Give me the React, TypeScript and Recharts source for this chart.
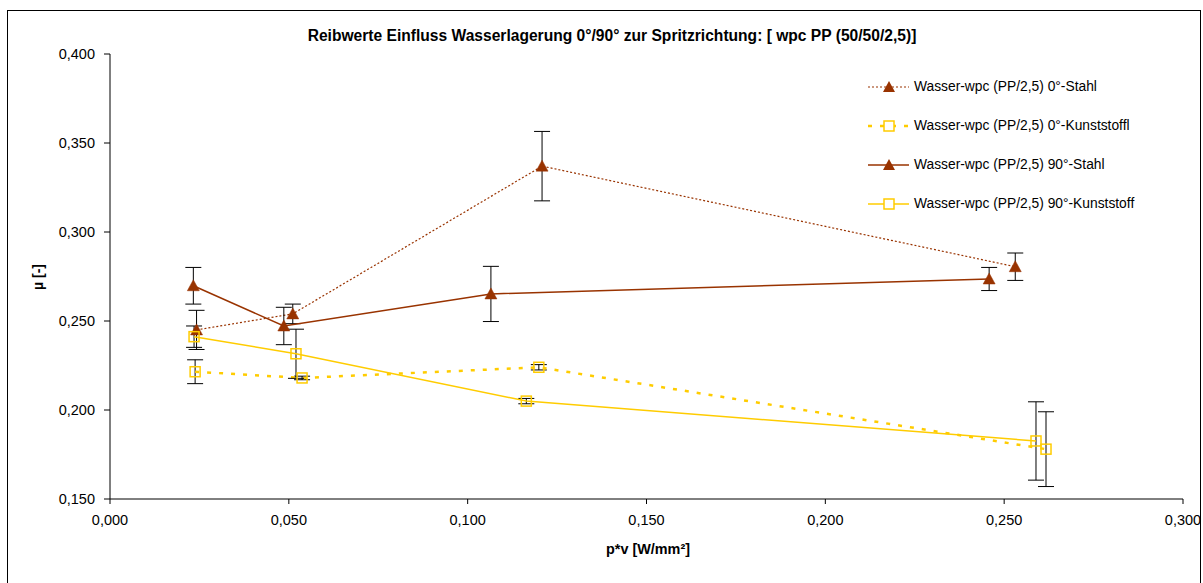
import { LineChart, Line, XAxis, YAxis, ErrorBar } from "recharts"

// 0°-Stahl
const stahl0X = [0.0242, 0.0511, 0.1208, 0.2531]
const stahl0Y = [0.245, 0.254, 0.337, 0.2805]
const stahl0Err = [0.011, 0.0055, 0.0195, 0.0077]

// 0°-Kunststoff
const kunst0X = [0.0238, 0.0537, 0.1199, 0.2617]
const kunst0Y = [0.2215, 0.218, 0.224, 0.178]
const kunst0Err = [0.0067, 0.001, 0.0015, 0.021]

// 90°-Stahl
const stahl90X = [0.0233, 0.0486, 0.1065, 0.2458]
const stahl90Y = [0.2698, 0.2472, 0.2652, 0.2736]
const stahl90Err = [0.0103, 0.0105, 0.0155, 0.0065]

// 90°-Kunststoff
const kunst90X = [0.0235, 0.052, 0.1164, 0.2589]
const kunst90Y = [0.2412, 0.2316, 0.205, 0.1826]
const kunst90Err = [0.006, 0.0138, 0.0015, 0.022]

const xTicks = [0, 0.05, 0.1, 0.15, 0.2, 0.25, 0.3]
const yTicks = [0.15, 0.2, 0.25, 0.3, 0.35, 0.4]

const seriesNames = [
  "Wasser-wpc (PP/2,5) 0°-Stahl",
  "Wasser-wpc (PP/2,5) 0°-Kunststoffl",
  "Wasser-wpc (PP/2,5) 90°-Stahl",
  "Wasser-wpc (PP/2,5) 90°-Kunststoff",
]

const BROWN = "#993300"
const YELLOW = "#FFCC00"
const FONT = "'Liberation Sans', Arial, sans-serif"

const toRows = (xs: number[], ys: number[], es: number[]) =>
  xs.map((x, i) => ({ x, y: ys[i], err: es[i] }))

const fmt = (v: number) => v.toFixed(3).replace(".", ",")

const Triangle = (p: any) => {
  const { cx, cy } = p
  if (cx == null || cy == null) return <g key={p.key} />
  return (
    <path
      key={p.key}
      d={`M${cx},${cy - 6} L${cx + 6},${cy + 5} L${cx - 6},${cy + 5} Z`}
      fill={BROWN}
      stroke={BROWN}
      strokeWidth={0.5}
    />
  )
}

const Square = (p: any) => {
  const { cx, cy } = p
  if (cx == null || cy == null) return <g key={p.key} />
  return (
    <rect
      key={p.key}
      x={cx - 5}
      y={cy - 5}
      width={10}
      height={10}
      fill="none"
      stroke={YELLOW}
      strokeWidth={1.5}
    />
  )
}

const legendLines = [
  { stroke: BROWN, width: 1.2, dash: "2 2", marker: "tri" },
  { stroke: YELLOW, width: 2.5, dash: "4 8", marker: "sq" },
  { stroke: BROWN, width: 1.5, dash: undefined, marker: "tri" },
  { stroke: YELLOW, width: 1.5, dash: undefined, marker: "sq" },
]

function LegendBox() {
  return (
    <div style={{ position: "absolute", left: 866, top: 77 }}>
      {seriesNames.map((n, i) => {
        const l = legendLines[i]
        return (
          <div key={n} style={{ height: 39, display: "flex", alignItems: "flex-start" }}>
            <svg width={46} height={20} style={{ display: "block" }}>
              <line x1={2} y1={10} x2={43} y2={10} stroke={l.stroke} strokeWidth={l.width} strokeDasharray={l.dash} />
              {l.marker === "tri" ? (
                <path d="M23,4 L29,15 L17,15 Z" fill={BROWN} />
              ) : (
                <rect x={18} y={5} width={10} height={10} fill="#fff" stroke={YELLOW} strokeWidth={1.5} />
              )}
            </svg>
            <span style={{ fontFamily: FONT, fontSize: 13.8, lineHeight: "20px", marginLeft: 2, whiteSpace: "nowrap" }}>
              {n}
            </span>
          </div>
        )
      })}
    </div>
  )
}

export default function App() {
  const tickStyle = { fontFamily: FONT, fontSize: 14.5, fill: "#000" }
  return (
    <div style={{ position: "absolute", left: 0, top: 0, width: 1203, height: 583, background: "#fff", overflow: "hidden" }}>
      <div style={{ position: "absolute", left: 7, top: 10, width: 1192, height: 600, border: "1px solid #000" }} />
      <div
        style={{
          position: "absolute",
          left: 612,
          top: 36,
          transform: "translate(-50%, -50%)",
          fontFamily: FONT,
          fontWeight: "bold",
          fontSize: 15.6,
          whiteSpace: "nowrap",
        }}
      >
        Reibwerte Einfluss Wasserlagerung 0°/90° zur Spritzrichtung: [ wpc PP (50/50/2,5)]
      </div>
      <div
        style={{
          position: "absolute",
          left: 38,
          top: 277,
          transform: "translate(-50%, -50%) rotate(-90deg)",
          fontFamily: FONT,
          fontWeight: "bold",
          fontSize: 14,
          whiteSpace: "nowrap",
        }}
      >
        µ [-]
      </div>
      <div
        style={{
          position: "absolute",
          left: 648,
          top: 549,
          transform: "translate(-50%, -50%)",
          fontFamily: FONT,
          fontWeight: "bold",
          fontSize: 14.4,
          whiteSpace: "nowrap",
        }}
      >
        p*v [W/mm²]
      </div>

      <div style={{ position: "absolute", left: 0, top: 0 }}>
        <LineChart width={1203} height={583} margin={{ top: 54, right: 20, bottom: 54, left: 0 }}>
          <XAxis
            type="number"
            dataKey="x"
            domain={[0, 0.3]}
            ticks={xTicks}
            tickFormatter={fmt}
            height={30}
            tickSize={5}
            tickMargin={11}
            tick={tickStyle}
            stroke="#000"
            allowDataOverflow
          />
          <YAxis
            type="number"
            dataKey="y"
            domain={[0.15, 0.4]}
            ticks={yTicks}
            tickFormatter={fmt}
            width={110}
            tickSize={6}
            tickMargin={9}
            tick={tickStyle}
            stroke="#000"
            allowDataOverflow
          />
          <Line
            data={toRows(stahl0X, stahl0Y, stahl0Err)}
            dataKey="y"
            name={seriesNames[0]}
            stroke={BROWN}
            strokeWidth={1.2}
            strokeDasharray="2 2"
            dot={Triangle}
            activeDot={false}
            isAnimationActive={false}
          >
            <ErrorBar dataKey="err" direction="y" width={8} stroke="#000" strokeWidth={1} />
          </Line>
          <Line
            data={toRows(kunst0X, kunst0Y, kunst0Err)}
            dataKey="y"
            name={seriesNames[1]}
            stroke={YELLOW}
            strokeWidth={2.5}
            strokeDasharray="4 8"
            dot={Square}
            activeDot={false}
            isAnimationActive={false}
          >
            <ErrorBar dataKey="err" direction="y" width={8} stroke="#000" strokeWidth={1} />
          </Line>
          <Line
            data={toRows(stahl90X, stahl90Y, stahl90Err)}
            dataKey="y"
            name={seriesNames[2]}
            stroke={BROWN}
            strokeWidth={1.5}
            dot={Triangle}
            activeDot={false}
            isAnimationActive={false}
          >
            <ErrorBar dataKey="err" direction="y" width={8} stroke="#000" strokeWidth={1} />
          </Line>
          <Line
            data={toRows(kunst90X, kunst90Y, kunst90Err)}
            dataKey="y"
            name={seriesNames[3]}
            stroke={YELLOW}
            strokeWidth={1.5}
            dot={Square}
            activeDot={false}
            isAnimationActive={false}
          >
            <ErrorBar dataKey="err" direction="y" width={8} stroke="#000" strokeWidth={1} />
          </Line>
        </LineChart>
      </div>
      <LegendBox />
    </div>
  )
}
